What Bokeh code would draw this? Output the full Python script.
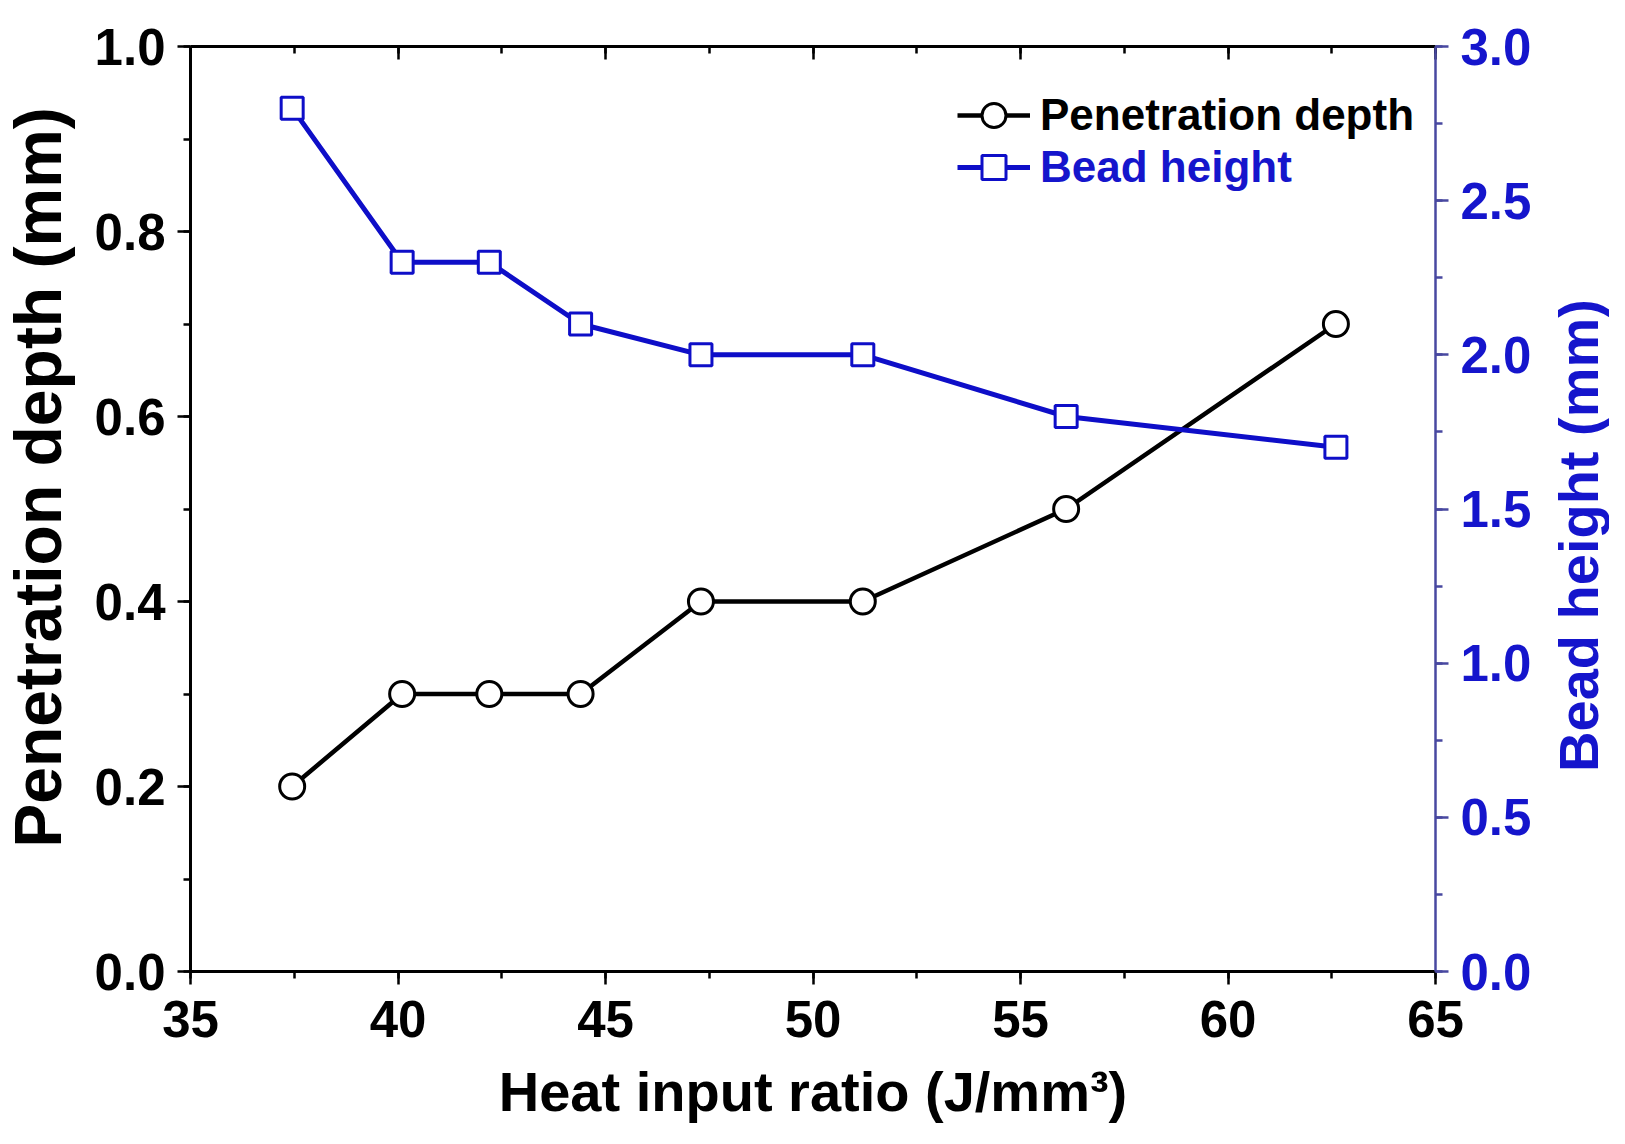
import math
from bokeh.plotting import figure
from bokeh.layouts import row
from bokeh.embed import file_html
from bokeh.resources import INLINE
from bokeh.models import (Range1d, LinearAxis, SingleIntervalTicker, Label,
                          PrintfTickFormatter, CustomJSTickFormatter,
                          Legend, LegendItem)

# values
heat_input = [37.45, 40.1, 42.2, 44.4, 47.3, 51.2, 56.1, 62.6]
penetration = [0.2, 0.3, 0.3, 0.3, 0.4, 0.4, 0.5, 0.7]
bead_height = [2.8, 2.3, 2.3, 2.1, 2.0, 2.0, 1.8, 1.7]

FONT = "Liberation Sans"
BLUE = "#0E0EC8"
BLUE_TXT = "#1515CC"
AXIS_BLUE = "#4848A0"

p = figure(width=1470, height=1125, output_backend="svg", toolbar_location=None,
           x_range=Range1d(35, 65), y_range=Range1d(0, 1.0),
           min_border_left=115, min_border_right=110,
           min_border_top=46, min_border_bottom=152,
           x_axis_location=None, y_axis_location=None)
p.extra_y_ranges = {"bead": Range1d(0, 3.0)}
p.grid.visible = False
p.outline_line_color = None
p.background_fill_color = "white"
p.border_fill_color = "white"


def style_axis(ax, color="black", text_color="black", line_color="black"):
    ax.axis_line_color = line_color
    ax.axis_line_width = 3
    ax.major_tick_line_color = color
    ax.minor_tick_line_color = color
    ax.major_tick_line_width = 2.5
    ax.minor_tick_line_width = 2.5
    ax.major_tick_out = 13
    ax.major_tick_in = 0
    ax.minor_tick_out = 7
    ax.minor_tick_in = 0
    ax.major_label_text_font = FONT
    ax.major_label_text_font_style = "bold"
    ax.major_label_text_font_size = "51px"
    ax.major_label_text_color = text_color
    ax.major_label_standoff = 12
    ax.axis_label_text_font = FONT
    ax.axis_label_text_font_style = "bold"
    ax.axis_label_text_font_size = "56px"
    ax.axis_label_text_color = text_color
    ax.axis_label_standoff = 20


xaxis = LinearAxis(ticker=SingleIntervalTicker(interval=5, num_minor_ticks=2),
                   axis_label="Heat input ratio (J/mm³)")
style_axis(xaxis)
xaxis.major_label_standoff = 16
xaxis.axis_label_standoff = 20
p.add_layout(xaxis, "below")

yaxis = LinearAxis(ticker=SingleIntervalTicker(interval=0.2, num_minor_ticks=2),
                   formatter=PrintfTickFormatter(format="%.1f"))
style_axis(yaxis)
p.add_layout(yaxis, "left")

# top frame line with inward ticks
topaxis = LinearAxis(ticker=SingleIntervalTicker(interval=5, num_minor_ticks=2),
                     formatter=CustomJSTickFormatter(code="return ''"))
topaxis.axis_line_width = 3
topaxis.major_tick_in = 13
topaxis.major_tick_out = 0
topaxis.minor_tick_in = 7
topaxis.minor_tick_out = 0
topaxis.major_tick_line_width = 2.5
topaxis.minor_tick_line_width = 2.5
topaxis.major_label_standoff = 0
p.add_layout(topaxis, "above")

raxis = LinearAxis(y_range_name="bead",
                   ticker=SingleIntervalTicker(interval=0.5, num_minor_ticks=2),
                   formatter=PrintfTickFormatter(format="%.1f"))
style_axis(raxis, color=AXIS_BLUE, text_color=BLUE_TXT, line_color=AXIS_BLUE)
raxis.axis_line_width = 2.5
p.add_layout(raxis, "right")

pl = p.line(heat_input, penetration, line_color="black", line_width=4.5)
ps = p.scatter(heat_input, penetration, marker="circle", size=25,
               fill_color="white", line_color="black", line_width=3)

bl = p.line(heat_input, bead_height, line_color=BLUE, line_width=5, y_range_name="bead")
bs = p.scatter(heat_input, bead_height, marker="square", size=22,
               fill_color="white", line_color=BLUE, line_width=3, y_range_name="bead")


def make_legend(label, renderers, color, y):
    lg = Legend(items=[LegendItem(label=label, renderers=renderers)],
                location=(767, y), orientation="vertical",
                glyph_width=73, glyph_height=60, label_height=60,
                label_standoff=10, padding=0, margin=0, spacing=0,
                border_line_color=None, background_fill_alpha=0)
    lg.label_text_font = FONT
    lg.label_text_font_style = "bold"
    lg.label_text_font_size = "44px"
    lg.label_text_color = color
    p.add_layout(lg, "center")


make_legend("Penetration depth", [pl, ps], "black", 826)
make_legend("Bead height", [bl, bs], BLUE_TXT, 774)


def title_strip(width, text, color, size, x, y):
    # narrow strip holding a vertical axis title, reading bottom to top
    s = figure(width=width, height=1125, output_backend="svg", toolbar_location=None,
               x_range=Range1d(0, 1), y_range=Range1d(0, 1), min_border=0,
               x_axis_location=None, y_axis_location=None)
    s.grid.visible = False
    s.outline_line_color = None
    s.border_fill_color = "white"
    s.add_layout(Label(x=x, y=y, x_units="screen", y_units="screen",
                       text=text, angle=math.pi / 2,
                       text_align="center", text_baseline="middle",
                       text_font=FONT, text_font_style="bold",
                       text_font_size=size, text_color=color))
    return s


left = title_strip(75, "Penetration depth (mm)", "black", "66px", 37, 494)
right = title_strip(64, "Bead height (mm)", BLUE_TXT, "56px", 33, 436)

layout = row(left, p, right, spacing=0)
open("out.html", "w").write(file_html(layout, INLINE))
